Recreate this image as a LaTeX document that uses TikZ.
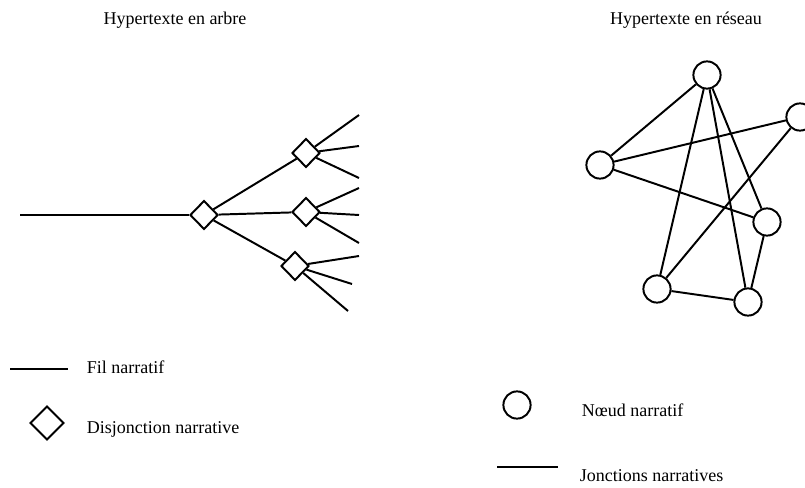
\documentclass[tikz,border=0pt]{standalone}
\usepackage{fontspec}
\setmainfont{Liberation Serif}
\usetikzlibrary{shapes.geometric}
\tikzset{%
	disj/.style     = {draw, line width=1.4pt, diamond, fill=white, inner sep=0pt,
		minimum width = 0.7cm, minimum height = 0.72cm}, % Disjonction
	noeud/.style    = {draw, line width=1.4pt, circle, fill=white, inner sep=0pt,
		minimum size = 0.68cm}, % Noeud
	fil/.style      = {line width=1.4pt}, % Fil
	titre/.style    = {font=\fontsize{12.8}{15}\selectfont}, % Titre
	label/.style    = {anchor=west, font=\fontsize{12.8}{15}\selectfont} % Texte
}
\begin{document}
\begin{tikzpicture}[x=0.025cm,y=-0.025cm]
			\useasboundingbox (0,0) rectangle (805,488);
			% titres
			\node[titre] (t1) at (175,20) {Hypertexte en arbre};
			\node[titre] (t2) at (686,20) {Hypertexte en réseau};
			
			% arbre
			\coordinate (start) at (20,215);
			\node[disj] (d0) at (204,215) {};
			\node[disj] (d1) at (306,153) {};
			\node[disj] (d2) at (306,212) {};
			\node[disj] (d3) at (295,266) {};
			\coordinate (e11) at (359,115);
			\coordinate (e12) at (359,146);
			\coordinate (e13) at (359,178);
			\coordinate (e21) at (359,188);
			\coordinate (e22) at (359,215);
			\coordinate (e23) at (359,243);
			\coordinate (e31) at (359,256);
			\coordinate (e32) at (352,284);
			\coordinate (e33) at (348,311);
			
			\draw[fil] (start) -- (d0);
			\draw[fil] (d0) -- (d1);
			\draw[fil] (d0) -- (d2);
			\draw[fil] (d0) -- (d3);
			\draw[fil] (d1) -- (e11);
			\draw[fil] (d1) -- (e12);
			\draw[fil] (d1) -- (e13);
			\draw[fil] (d2) -- (e21);
			\draw[fil] (d2) -- (e22);
			\draw[fil] (d2) -- (e23);
			\draw[fil] (d3) -- (e31);
			\draw[fil] (d3) -- (e32);
			\draw[fil] (d3) -- (e33);
			
			% reseau
			\node[noeud] (top) at (707,75) {};
			\node[noeud] (right) at (800,117) {};
			\node[noeud] (left) at (600,165) {};
			\node[noeud] (midr) at (767,222) {};
			\node[noeud] (botl) at (657,289) {};
			\node[noeud] (botr) at (748,302) {};
			
			\draw[fil] (top) -- (left);
			\draw[fil] (top) -- (botl);
			\draw[fil] (top) -- (botr);
			\draw[fil] (top) -- (midr);
			\draw[fil] (left) -- (right);
			\draw[fil] (left) -- (midr);
			\draw[fil] (right) -- (botl);
			\draw[fil] (midr) -- (botr);
			\draw[fil] (botl) -- (botr);
			
			% legendes
			\coordinate (l1a) at (10,369);
			\coordinate (l1b) at (68,369);
			\draw[fil] (l1a) -- (l1b);
			\node[label] (fil) at (82,367) {Fil narratif};
			\node[disj, minimum width=0.85cm, minimum height=0.85cm] (ld) at (47,423) {};
			\node[label] (disjtxt) at (82,429) {Disjonction narrative};
			
			\node[noeud] (ln) at (517,405) {};
			\node[label] (noeudtxt) at (577,410) {Nœud narratif};
			\coordinate (l2a) at (497,467);
			\coordinate (l2b) at (558,467);
			\draw[fil] (l2a) -- (l2b);
			\node[label] (jonc) at (575,476) {Jonctions narratives};
		\end{tikzpicture}
\end{document}
